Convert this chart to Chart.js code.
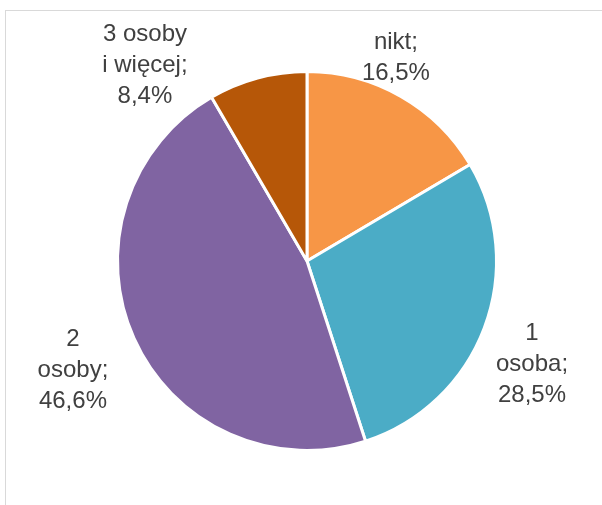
<!DOCTYPE html>
<html>
<head>
<meta charset="utf-8">
<script src="https://cdn.jsdelivr.net/npm/chart.js@4.4.0/dist/chart.umd.min.js"></script>
<style>
  html, body { margin: 0; padding: 0; background: #fff; }
  #wrap { width: 602px; height: 505px; position: relative; }
</style>
</head>
<body>
<div id="wrap"><canvas id="mycanvas" width="602" height="505"></canvas></div>
<script>
// ** pie: household members
var categories = ['nikt', '1\nosoba', '2\nosoby', '3 osoby\ni więcej'];
var shares = [16.5, 28.5, 46.6, 8.4];
var colours = ['#F79646', '#4BACC6', '#8064A2', '#B65708'];

// where each label sits, relative to pie centre, in units of the radius
var labelPos = [[0.473, -1.08], [1.197, 0.548], [-1.245, 0.58], [-0.862, -1.04]];

var frame = {
	id: 'frame',
	beforeDraw: function(chart) {
		var ctx = chart.ctx;
		ctx.save();
		ctx.strokeStyle = '#D9D9D9';
		ctx.lineWidth = 1;
		ctx.strokeRect(5.5, 10.5, 700, 600);
		ctx.restore();
	}
};

var sliceLabels = {
	id: 'sliceLabels',
	afterDatasetsDraw: function(chart) {
		var ctx = chart.ctx;
		var arcs = chart.getDatasetMeta(0).data;
		ctx.save();
		ctx.font = '24px "Liberation Sans", Arial, sans-serif';
		ctx.fillStyle = '#404040';
		ctx.textAlign = 'center';
		ctx.textBaseline = 'middle';
		for (var i = 0; i < arcs.length; i++) {
			var a = arcs[i];
			var r = 188;
			var cx = a.x + labelPos[i][0] * r;
			var cy = a.y + labelPos[i][1] * r;
			var pct = shares[i].toFixed(1).replace('.', ',') + '%';
			var lines = (categories[i] + ';\n' + pct).split('\n');
			var lh = 31;
			var y0 = cy - (lines.length - 1) * lh / 2;
			for (var j = 0; j < lines.length; j++) {
				ctx.fillText(lines[j], cx, y0 + j * lh);
			}
		}
		ctx.restore();
	}
};

var ctx = document.getElementById('mycanvas');
var pie = new Chart(ctx, {
	type: 'pie',
	data: {
		labels: categories,
		datasets: [{
			data: shares,
			backgroundColor: colours,
			borderColor: '#FFFFFF',
			borderWidth: 3
		}]
	},
	options: {
		responsive: false,
		animation: false,
		layout: {
			padding: { top: 70, bottom: 53, left: 116, right: 104 }
		},
		plugins: {
			legend: { display: false },
			tooltip: { enabled: false }
		}
	},
	plugins: [frame, sliceLabels]
});
</script>
</body>
</html>
